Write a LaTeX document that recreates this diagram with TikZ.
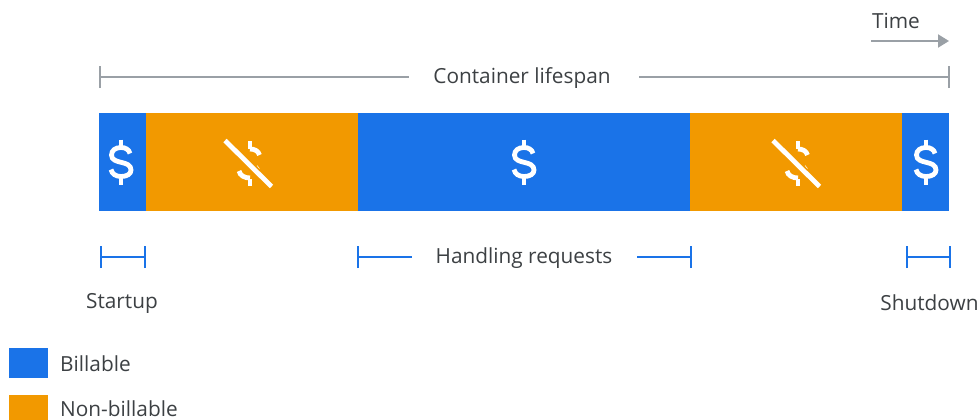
\documentclass[tikz,border=0pt]{standalone}
\usepackage{fontspec}
\setmainfont{Open Sans}
\usetikzlibrary{arrows.meta}
\definecolor{gblue}{HTML}{1A73E8}
\definecolor{gorange}{HTML}{F29900}
\definecolor{ggray}{HTML}{9AA0A6}
\definecolor{gtext}{HTML}{3C4043}
\tikzset{
  seg/.style={fill=#1,draw=none,minimum height=98pt,inner sep=0pt,outer sep=0pt},
  swatch/.style={fill=#1,draw=none,minimum width=39pt,minimum height=30pt,inner sep=0pt},
  lbl/.style={text=gtext,font=\fontsize{20.8}{24}\selectfont,inner sep=0pt},
  grayline/.style={draw=ggray,line width=2pt},
  blueline/.style={draw=gblue,line width=2pt},
  icon/.style={draw=white,line width=4.8pt},
  dollar/.pic={
    \draw[icon] (0,-22.5) -- (0,-15);
    \draw[icon] (0,22.5) -- (0,15);
    \draw[icon] (9,-8.5) .. controls (8,-12.5) and (4.5,-14.5) .. (0,-14.5)
      .. controls (-5.5,-14.5) and (-9.5,-11.5) .. (-9.5,-7)
      .. controls (-9.5,-2) and (-4.5,-0.8) .. (0,0.3)
      .. controls (5.5,1.6) and (10,3) .. (10,8)
      .. controls (10,12) and (6,14.5) .. (0,14.5)
      .. controls (-5,14.5) and (-9,12) .. (-10,7.5);
  },
  nodollar/.pic={
    \draw[icon] (1.5,-22.5) -- (1.5,-15);
    \draw[icon] (1.5,22.5) -- (1.5,15);
    \draw[icon] (11,-8.5) .. controls (10,-12.5) and (6,-14.5) .. (1.5,-14.5);
    \draw[icon] (-9.5,7.5) .. controls (-8.5,12) and (-4,14.5) .. (1.5,14.5);
    \draw[white,line width=.5pt] (8.5,2) -- (11,5);
    \draw[icon,line cap=butt] (-23.5,-23) -- (23,23);
  }
}
\begin{document}
\begin{tikzpicture}[x=1pt,y=-1pt]
\useasboundingbox (0,0) rectangle (980,420);
% bar
\node[seg=gblue,minimum width=47pt,anchor=north west] (s1) at (99,113) {};
\node[seg=gorange,minimum width=212pt,anchor=north west] (s2) at (146,113) {};
\node[seg=gblue,minimum width=332pt,anchor=north west] (s3) at (358,113) {};
\node[seg=gorange,minimum width=212pt,anchor=north west] (s4) at (690,113) {};
\node[seg=gblue,minimum width=47pt,anchor=north west] (s5) at (902,113) {};
\pic at (121,162) {dollar};
\pic at (248.5,163.5) {nodollar};
\pic at (524,162) {dollar};
\pic at (796.5,163.5) {nodollar};
\pic at (926,162) {dollar};
% time
\node[lbl] (time) at (896,21) {Time};
\coordinate (t1) at (871,41);
\coordinate (t2) at (949,41);
\draw[grayline,-{Triangle[length=11pt,width=13pt]}] (t1) -- (t2);
% lifespan
\node[lbl] (life) at (522,78) {Container lifespan};
\coordinate (la) at (100,77); \coordinate (lb) at (948.5,77);
\draw[grayline] (la) -- (409,77) (639,77) -- (lb);
\draw[grayline] ([yshift=-11pt]la) -- ([yshift=11pt]la);
\draw[grayline] ([yshift=-11pt]lb) -- ([yshift=11pt]lb);
% startup
\coordinate (sa) at (101,257); \coordinate (sb) at (144.5,257);
\draw[blueline] (sa) -- (sb);
\draw[blueline] ([yshift=-11pt]sa) -- ([yshift=11pt]sa);
\draw[blueline] ([yshift=-11pt]sb) -- ([yshift=11pt]sb);
\node[lbl] (startup) at (122,303) {Startup};
% handling
\node[lbl] (hand) at (524,258) {Handling requests};
\coordinate (ha) at (358,257); \coordinate (hb) at (690.5,257);
\draw[blueline] (ha) -- (412,257) (637,257) -- (hb);
\draw[blueline] ([yshift=-11pt]ha) -- ([yshift=11pt]ha);
\draw[blueline] ([yshift=-11pt]hb) -- ([yshift=11pt]hb);
% shutdown
\coordinate (da) at (907,257); \coordinate (db) at (949.5,257);
\draw[blueline] (da) -- (db);
\draw[blueline] ([yshift=-11pt]da) -- ([yshift=11pt]da);
\draw[blueline] ([yshift=-11pt]db) -- ([yshift=11pt]db);
\node[lbl] (shutdown) at (929.5,303) {Shutdown};
% legend
\node[swatch=gblue,anchor=north west] (k1) at (9,348) {};
\node[lbl,anchor=west] (k1t) at (60,364) {Billable};
\node[swatch=gorange,anchor=north west] (k2) at (9,395) {};
\node[lbl,anchor=west] (k2t) at (60,409) {Non-billable};
\end{tikzpicture}
\end{document}
